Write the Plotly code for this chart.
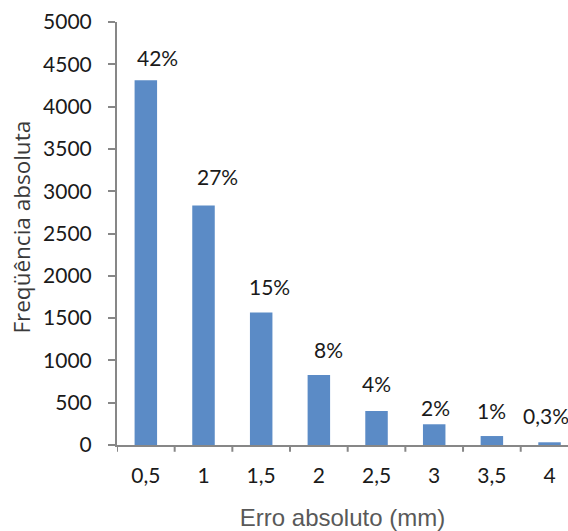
import plotly.graph_objects as go

categories = ["0,5", "1", "1,5", "2", "2,5", "3", "3,5", "4"]
frequencies = [4310, 2830, 1565, 827, 402, 245, 106, 32]
pct_labels = ["42%", "27%", "15%", "8%", "4%", "2%", "1%", "0,3%"]
y_ticks = list(range(0, 5001, 500))

# label offsets in pixels (layout only)
label_dx = [12, 14, 8, 10, 0, 1, 0, -4]
label_dy = [23, 29, 26, 26, 27, 17, 26, 27]

xs = list(range(len(categories)))
num_font = "Lato, Open Sans, sans-serif"

fig = go.Figure()
fig.add_trace(go.Bar(
    x=xs, y=frequencies, width=0.39,
    marker=dict(color="#5b8bc6", line=dict(width=0)),
    hoverinfo="skip",
))

for i, (v, t) in enumerate(zip(frequencies, pct_labels)):
    fig.add_annotation(
        x=xs[i], y=v, text=t, showarrow=False,
        xanchor="center", yanchor="middle",
        xshift=label_dx[i], yshift=label_dy[i],
        font=dict(family=num_font, size=21, color="#1a1a1a"),
    )

# y-axis title as annotation
fig.add_annotation(
    xref="paper", yref="paper", x=0, y=0.514, xshift=-95,
    text="Freqüência absoluta", textangle=-90, showarrow=False,
    xanchor="center", yanchor="middle",
    font=dict(family="Open Sans, sans-serif", size=22.5, color="#3a3a3a"),
)

axis_color = "#878787"
fig.update_layout(
    width=568, height=531,
    margin=dict(l=117, r=0, t=22, b=86),
    plot_bgcolor="white", paper_bgcolor="white",
    showlegend=False,
    xaxis=dict(
        range=[-0.5, 7.32],
        tickmode="array", tickvals=xs, ticktext=categories,
        showline=True, linecolor=axis_color, linewidth=2,
        showgrid=False, zeroline=False,
        ticks="outside", ticklen=11, tickcolor="rgba(0,0,0,0)",
        tickfont=dict(family=num_font, size=21, color="#1a1a1a"),
        title=dict(text="Erro absoluto (mm)",
                   font=dict(family="Liberation Sans, Arial, sans-serif", size=24, color="#595959"),
                   standoff=24),
    ),
    yaxis=dict(
        range=[0, 5000],
        tickmode="array", tickvals=y_ticks, ticktext=[str(v) for v in y_ticks],
        showline=True, linecolor=axis_color, linewidth=2,
        showgrid=False, zeroline=False,
        ticks="outside", ticklen=7, tickcolor=axis_color, tickwidth=2,
        tickfont=dict(family=num_font, size=21, color="#1a1a1a"),
        ticklabelstandoff=12,
    ),
)

# boundary ticks on x axis
for b in [k - 0.5 for k in range(len(categories))]:
    fig.add_shape(type="line", xref="x", yref="paper", x0=b, x1=b, y0=0, y1=-0.016,
                  line=dict(color=axis_color, width=2))

fig.write_html("out.html")
